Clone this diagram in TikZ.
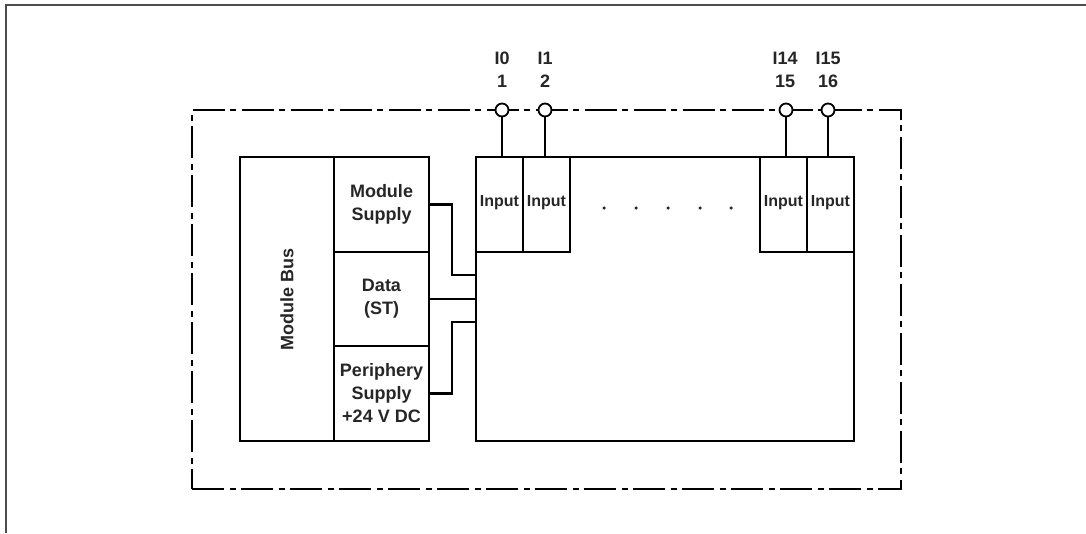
\documentclass[tikz,border=0pt]{standalone}
\usepackage{fontspec}
\setmainfont{Liberation Sans}
\tikzset{
  cell/.style={draw,line width=2.2pt,inner sep=0pt,outer sep=0pt,align=center,font=\fontsize{18}{23}\selectfont\bfseries,text=black!85},
  input/.style={cell,minimum width=47,minimum height=95,text depth=8pt,font=\fontsize{16}{20}\selectfont\bfseries},
  terminal/.style={circle,draw,fill=white,line width=1.8pt,minimum size=13,inner sep=0pt,outer sep=0pt},
  pinlabel/.style={align=center,font=\fontsize{18}{23}\selectfont\bfseries,text=black!85},
  wire/.style={line width=2.2pt,line join=miter},
  housing/.style={draw,line width=2.2pt,inner sep=0pt,outer sep=0pt,minimum width=709,minimum height=379,dash pattern=on 32pt off 6pt on 6pt off 5pt},
  dotmark/.style={circle,fill=black!85,minimum size=3.5,inner sep=0pt}
}
\begin{document}
\begin{tikzpicture}[x=1pt,y=-1pt]
\useasboundingbox (0,0) rectangle (1086,533);
\draw[line width=1.5pt,black!70] (6,533) -- (6,5) -- (1086,5);
\node[housing] (housing) at (546.5,299.5) {};
\node[cell,minimum width=94,minimum height=284] (bus) at (287,299) {\rotatebox{90}{Module Bus}};
\node[cell,minimum width=95,minimum height=95] (supply) at (381.5,204.5) {Module\\Supply};
\node[cell,minimum width=95,minimum height=94] (data) at (381.5,299) {Data\\(ST)};
\node[cell,minimum width=95,minimum height=95] (periphery) at (381.5,393.5) {Periphery\\Supply\\+24 V DC};
\node[cell,minimum width=378,minimum height=284] (main) at (665,299) {};
\node[input] (in0) at (499.5,204.5) {Input};
\node[input] (in1) at (546.5,204.5) {Input};
\node[input] (in14) at (783.5,204.5) {Input};
\node[input] (in15) at (830.5,204.5) {Input};
\node[terminal] (t0) at (502,110) {};
\node[terminal] (t1) at (545,110) {};
\node[terminal] (t14) at (786,110) {};
\node[terminal] (t15) at (828,110) {};
\node[pinlabel] (l0) at (502,70) {I0\\1};
\node[pinlabel] (l1) at (545,70) {I1\\2};
\node[pinlabel] (l14) at (785,70) {I14\\15};
\node[pinlabel] (l15) at (828,70) {I15\\16};
\draw[wire] (t0) -- (t0 |- in0.north);
\draw[wire] (t1) -- (t1 |- in1.north);
\draw[wire] (t14) -- (t14 |- in14.north);
\draw[wire] (t15) -- (t15 |- in15.north);
\coordinate (w1) at (452,275);
\coordinate (w2) at (452,322);
\draw[wire] (supply.east) -| (w1) -- (w1 -| main.west);
\draw[wire] (data.east) -- (data.east -| main.west);
\draw[wire] (periphery.east) -| (w2) -- (w2 -| main.west);
\node[dotmark] (d1) at (604,208) {};
\node[dotmark] (d2) at (636,208) {};
\node[dotmark] (d3) at (668,208) {};
\node[dotmark] (d4) at (700,208) {};
\node[dotmark] (d5) at (731,208) {};
\end{tikzpicture}
\end{document}
